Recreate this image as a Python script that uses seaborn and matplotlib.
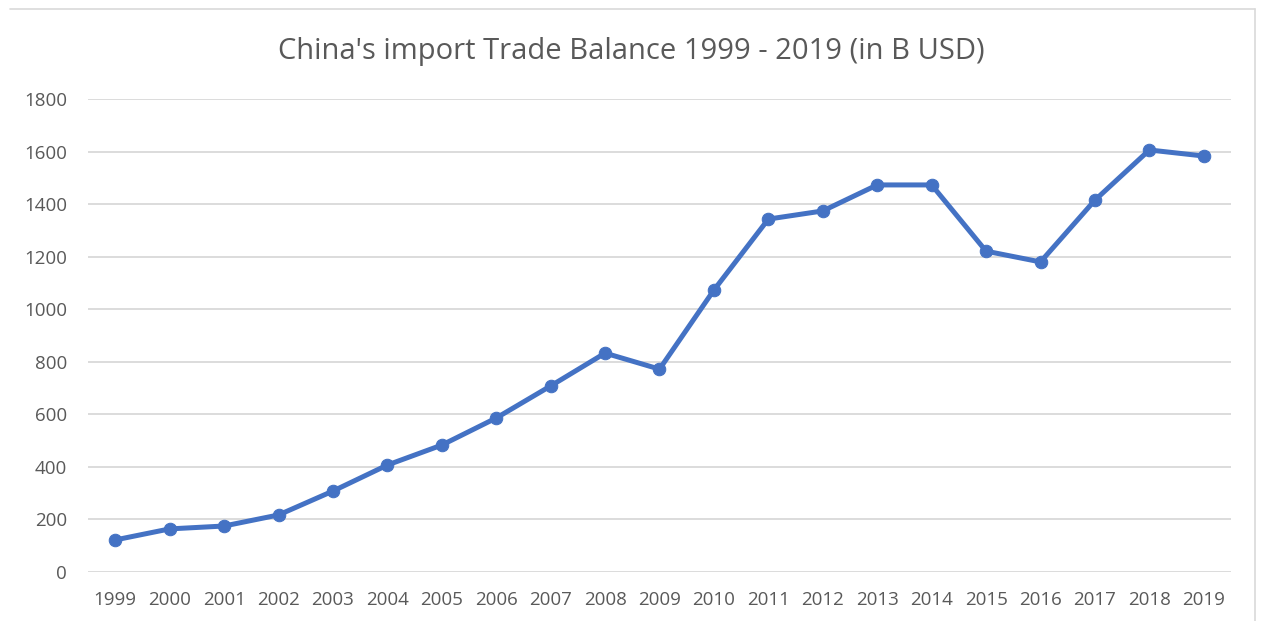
import numpy as np
import pandas as pd
import matplotlib
matplotlib.use("Agg")
import matplotlib.pyplot as plt
import seaborn as sns

years = ['1999', '2000', '2001', '2002', '2003', '2004', '2005', '2006', '2007', '2008', '2009',
         '2010', '2011', '2012', '2013', '2014', '2015', '2016', '2017', '2018', '2019']
imports = [122, 164, 175, 217, 308, 407, 483, 586, 708, 833, 772,
           1073, 1343, 1374, 1473, 1473, 1221, 1180, 1415, 1606, 1583]
yticks = [0, 200, 400, 600, 800, 1000, 1200, 1400, 1600, 1800]

df = pd.DataFrame({'year': years, 'value': imports})

sns.set_style("white")
plt.rcParams['font.family'] = ['Open Sans', 'DejaVu Sans']

fig = plt.figure(figsize=(12.63, 6.21), dpi=100)
ax = fig.add_axes([88 / 1263, 1 - 572 / 621, (1231 - 88) / 1263, (572 - 99) / 621])

sns.lineplot(data=df, x='year', y='value', ax=ax, color='#4472C4', linewidth=3.6,
             marker='o', markersize=9, markeredgecolor='#4472C4', sort=False)

ax.set_xlim(-0.5, len(years) - 0.5)
ax.set_ylim(0, 1800)
ax.set_yticks(yticks)
ax.yaxis.grid(True, color='#D9D9D9', linewidth=1.3)
ax.set_axisbelow(True)
for s in ax.spines.values():
    s.set_visible(False)
ax.tick_params(axis='both', length=0, labelsize=13.5, labelcolor='#595959')
ax.tick_params(axis='y', pad=15)
ax.tick_params(axis='x', pad=14)
ax.set_xlabel('')
ax.set_ylabel('')

fig.text(0.5, 1 - 51 / 621, "China's import Trade Balance 1999 - 2019 (in B USD)",
         ha='center', va='center', fontsize=21, color='#595959')

# outer chart border (top and right edges visible in the reference)
fig.add_artist(plt.Line2D([10 / 1263, 1255 / 1263], [1 - 9 / 621, 1 - 9 / 621],
                          color='#D9D9D9', linewidth=1.2, transform=fig.transFigure))
fig.add_artist(plt.Line2D([1255 / 1263, 1255 / 1263], [1 - 9 / 621, 0],
                          color='#D9D9D9', linewidth=1.2, transform=fig.transFigure))

fig.savefig('out.png', dpi=100)
